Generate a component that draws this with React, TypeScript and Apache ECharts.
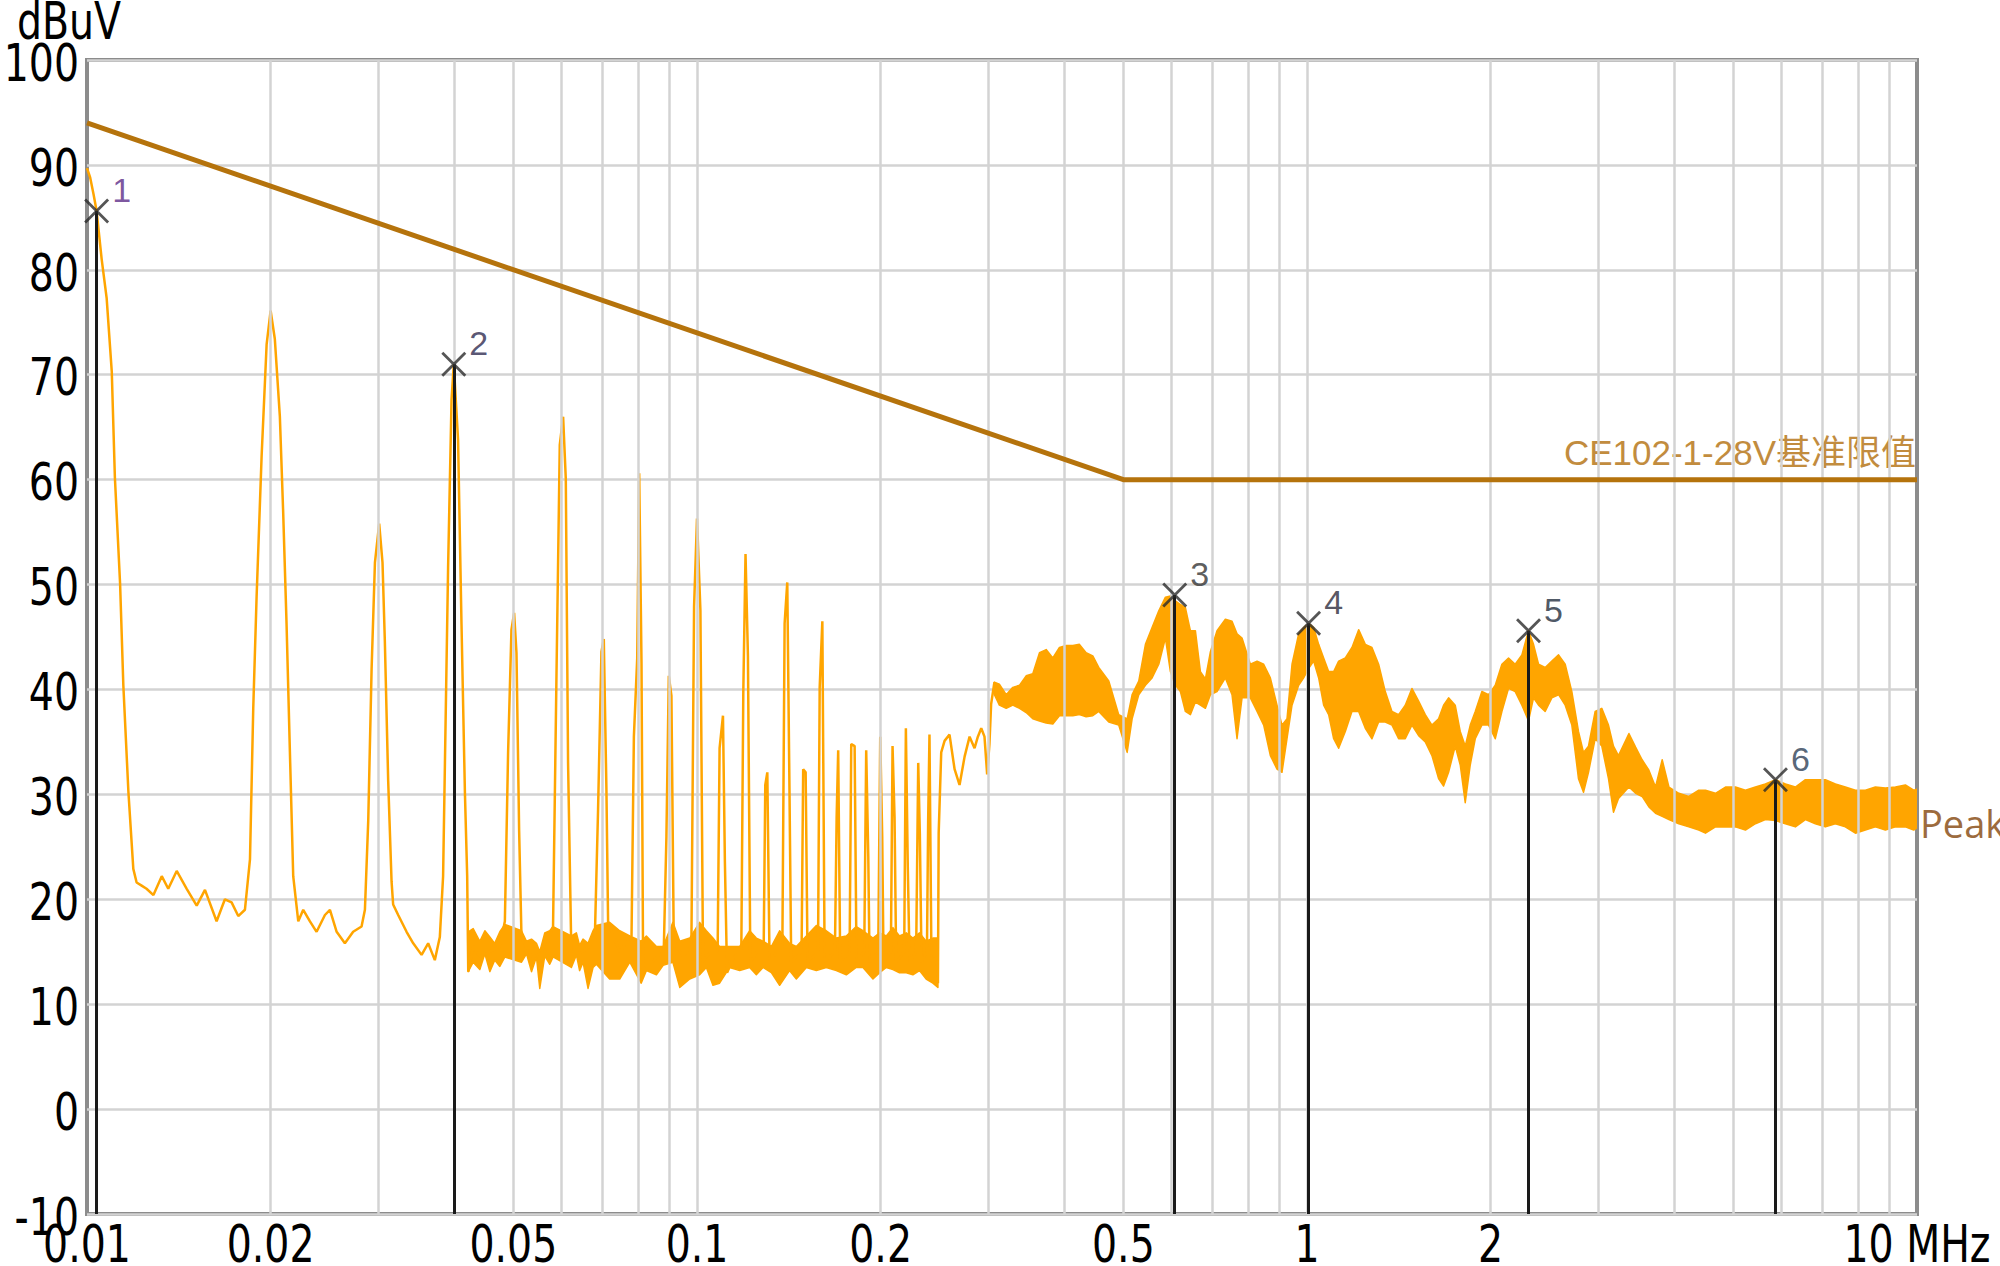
import React, { useEffect, useRef } from 'react';
import * as echarts from 'echarts';

// ---------- axes ----------
const X_MIN = 0.01;
const X_MAX = 10;
const Y_MIN = -10;
const Y_MAX = 100;
const Y_STEP = 10;
const Y_UNIT = 'dBuV';
const Y_TICKS = [-10, 0, 10, 20, 30, 40, 50, 60, 70, 80, 90, 100];

const TICK_F = [0.01, 0.02, 0.05, 0.1, 0.2, 0.5, 1, 2, 10];
const TICK_LABELS = ['0.01', '0.02', '0.05', '0.1', '0.2', '0.5', '1', '2', '10 MHz'];
const GRID_F = [
  0.02, 0.03, 0.04, 0.05, 0.06, 0.07, 0.08, 0.09, 0.1,
  0.2, 0.3, 0.4, 0.5, 0.6, 0.7, 0.8, 0.9, 1,
  2, 3, 4, 5, 6, 7, 8, 9,
];

// ---------- limit ----------
const LIMIT_NAME = 'CE102-1-28V基准限值';
const LIMIT_F = [0.01, 0.5, 10];
const LIMIT_V = [94, 60, 60];

// ---------- peak trace (line part) ----------
const TRACE_NAME = 'Peak';
const TRACE = [
  [0.01, 89.7], [0.01012, 88.8], [0.01025, 87.2], [0.01037, 85.6], [0.01057, 81.0], [0.01077, 77.3],
  [0.01098, 70.3], [0.01111, 60.2], [0.01133, 50.1], [0.01147, 40.4], [0.01169, 30.3], [0.01191, 22.9],
  [0.01206, 21.6], [0.01229, 21.3], [0.01252, 21.0], [0.01285, 20.4], [0.01326, 22.2], [0.01359, 21.0],
  [0.01403, 22.7], [0.01457, 21.0], [0.01513, 19.4], [0.01561, 20.9], [0.01631, 17.9], [0.01683, 20.0],
  [0.01726, 19.7], [0.0177, 18.4], [0.01815, 19.0], [0.0185, 23.8], [0.01873, 38.2], [0.01897, 48.9],
  [0.01933, 62.2], [0.0197, 72.9], [0.02, 76.1], [0.02032, 73.4], [0.02071, 66.0], [0.02097, 56.9],
  [0.02124, 46.2], [0.02151, 34.0], [0.02178, 22.2], [0.0222, 17.9], [0.02262, 19.0], [0.0232, 17.9],
  [0.02379, 16.9], [0.02455, 18.5], [0.02502, 19.0], [0.02566, 16.9], [0.02647, 15.8], [0.02731, 16.9],
  [0.02819, 17.4], [0.02855, 19.0], [0.02891, 27.5], [0.02928, 42.0], [0.02965, 52.1], [0.03013, 55.8],
  [0.03051, 52.1], [0.03078, 44.6], [0.03117, 31.3], [0.03157, 21.7], [0.03176, 19.5], [0.03237, 18.5],
  [0.03341, 16.9], [0.03426, 15.8], [0.03536, 14.7], [0.03625, 15.8], [0.03717, 14.2], [0.03788, 16.4],
  [0.03835, 22.2], [0.03908, 51.6], [0.03959, 67.6], [0.03993, 71.0], [0.04058, 63.8], [0.04111, 46.2],
  [0.04164, 30.2], [0.042, 22.2], [0.04217, 13.1],
  [0.04296, 15.5], [0.04405, 14.5], [0.04575, 15.0], [0.04751, 15.5], [0.04842, 17.9],
  [0.04901, 33.9], [0.04964, 45.7], [0.05014, 47.3], [0.05059, 43.5], [0.0511, 26.5], [0.05156, 16.3],
  [0.05354, 14.5], [0.05629, 15.0], [0.05808, 17.4],
  [0.05882, 40.9], [0.05957, 63.3], [0.06033, 66.0], [0.06094, 60.1], [0.06147, 32.9], [0.06224, 14.7],
  [0.06504, 15.0], [0.06798, 16.0],
  [0.06884, 28.6], [0.06972, 43.6], [0.07034, 44.8], [0.07104, 30.5], [0.07149, 17.8],
  [0.0747, 15.0], [0.0781, 16.5],
  [0.0788, 35.5], [0.0798, 43.0], [0.0804, 60.6], [0.0811, 42.5], [0.0816, 13.0],
  [0.0858, 14.5], [0.0882, 15.0],
  [0.0891, 26.0], [0.0899, 41.3], [0.0908, 39.4], [0.0916, 16.0],
  [0.095, 14.5], [0.0979, 15.5],
  [0.0989, 47.9], [0.1, 56.3], [0.1013, 47.5], [0.1023, 14.0],
  [0.105, 15.0], [0.1081, 15.0],
  [0.1089, 34.4], [0.1103, 37.5], [0.1111, 23.6], [0.112, 13.0],
  [0.115, 14.5], [0.1182, 15.0],
  [0.1191, 39.8], [0.1201, 52.9], [0.1212, 43.2], [0.1223, 14.0],
  [0.1255, 15.0], [0.1286, 15.0],
  [0.1294, 30.9], [0.1304, 32.1], [0.1315, 14.0],
  [0.135, 15.0], [0.138, 15.0],
  [0.1392, 46.3], [0.1406, 50.2], [0.1418, 30.0], [0.1427, 14.0],
  [0.1484, 15.0],
  [0.1493, 32.4], [0.1507, 32.1], [0.1518, 14.0],
  [0.1579, 15.0],
  [0.1589, 40.2], [0.1605, 46.5], [0.1619, 14.0],
  [0.1683, 15.0],
  [0.1694, 27.8], [0.1704, 34.2], [0.1717, 14.0],
  [0.1779, 15.0],
  [0.179, 34.8], [0.1813, 34.6], [0.1826, 14.0],
  [0.188, 15.0],
  [0.1894, 34.2], [0.1909, 24.0], [0.1918, 14.0],
  [0.1982, 15.0],
  [0.1997, 35.5], [0.2012, 26.0], [0.2022, 14.0],
  [0.2079, 15.0],
  [0.2092, 34.6], [0.2108, 27.8], [0.2121, 14.0],
  [0.2186, 15.0],
  [0.22, 36.3], [0.2216, 23.0], [0.2231, 14.0],
  [0.2287, 15.0],
  [0.2305, 33.0], [0.2319, 26.3], [0.2334, 14.0],
  [0.2382, 15.0],
  [0.2393, 27.5], [0.2405, 35.7], [0.2423, 14.0],
  [0.247, 14.5], [0.2483, 12.0],
  [0.249, 26.3], [0.2514, 34.0], [0.2546, 35.1], [0.2594, 35.7], [0.2644, 32.4], [0.2694, 30.9],
  [0.2746, 33.6], [0.2798, 35.5], [0.2851, 34.4], [0.2887, 35.5], [0.2924, 36.3], [0.296, 35.5],
  [0.299, 31.9], [0.3016, 34.8], [0.3035, 38.6], [0.3073, 40.7],
];

// ---------- noise floor band, 0.042 - 0.25 MHz ----------
const FLOOR_F = [
  0.04217, 0.04296, 0.04405, 0.0449, 0.04575, 0.0466, 0.04751, 0.04842, 0.05156, 0.05254, 0.05354,
  0.05455, 0.05524, 0.05629, 0.05736, 0.05808, 0.06224, 0.06343, 0.0642, 0.06504, 0.06628, 0.06754,
  0.0684, 0.0719, 0.0747, 0.0776, 0.081, 0.0826, 0.0858, 0.088, 0.0913, 0.0937, 0.0973, 0.101,
  0.1036, 0.1062, 0.1089, 0.1131, 0.1175, 0.122, 0.1251, 0.1283, 0.1324, 0.1366, 0.1418, 0.1455,
  0.1511, 0.1569, 0.1629, 0.1692, 0.1757, 0.1824, 0.1871, 0.1943, 0.1993, 0.2043, 0.2095, 0.2148,
  0.2203, 0.2259, 0.2316, 0.2375, 0.2436, 0.2483,
];
const FLOOR_LO = [
  13.1, 14.0, 13.3, 14.8, 13.1, 14.2, 13.6, 14.5, 14.0, 14.8, 13.1,
  14.5, 11.5, 14.6, 13.8, 14.5, 13.5, 14.7, 13.2, 14.0, 11.5, 13.5,
  13.8, 12.4, 12.4, 14.0, 12.0, 13.2, 12.8, 13.7, 14.0, 11.6, 12.4, 12.8,
  13.5, 11.8, 12.0, 13.5, 13.2, 13.5, 12.8, 13.5, 13.0, 11.8, 13.2, 12.4,
  13.5, 13.2, 13.5, 13.2, 12.8, 13.5, 13.5, 12.4, 13.0, 13.5, 13.3, 13.0,
  13.0, 12.8, 13.2, 12.4, 12.0, 11.6,
];
const FLOOR_HI = [
  16.9, 17.2, 16.0, 17.0, 16.4, 15.8, 16.9, 17.6, 17.0, 16.0, 16.2,
  15.8, 15.0, 16.8, 17.0, 17.4, 16.5, 16.8, 15.6, 16.2, 15.8, 17.0,
  17.5, 17.8, 17.0, 16.5, 16.0, 16.5, 15.5, 15.5, 17.8, 16.0, 16.3, 17.8,
  17.0, 16.3, 15.5, 15.5, 15.5, 17.0, 16.3, 16.0, 15.5, 17.0, 15.8, 15.5,
  16.5, 17.5, 17.0, 16.3, 16.5, 17.4, 17.0, 16.3, 16.8, 16.5, 17.3, 16.5,
  16.8, 16.3, 16.8, 16.0, 16.3, 16.3,
];

// ---------- dense noise band, 0.3 - 10 MHz ----------
const BAND_F = [
  0.3073, 0.3131, 0.3213, 0.3294, 0.3379, 0.3464, 0.3552, 0.3643, 0.3736, 0.3831, 0.3928, 0.403,
  0.4132, 0.4236, 0.4344, 0.4455, 0.4556, 0.4732, 0.4913, 0.5072, 0.5168, 0.5299, 0.5434, 0.5572,
  0.5715, 0.586, 0.5971, 0.607, 0.6201, 0.6319, 0.6439, 0.6562, 0.6687, 0.6815, 0.6945, 0.712,
  0.7348, 0.7535, 0.7679, 0.7825, 0.8075, 0.8282, 0.8492, 0.8708, 0.893, 0.9099, 0.9273, 0.945,
  0.969, 0.9875, 1.006, 1.0254, 1.045, 1.0649, 1.0852, 1.1059, 1.1269, 1.1556, 1.185, 1.2153,
  1.2462, 1.2779, 1.3105, 1.3438, 1.3782, 1.4132, 1.4491, 1.4859, 1.5241, 1.5628, 1.6025, 1.6432,
  1.6745, 1.7065, 1.7498, 1.7832, 1.8172, 1.8519, 1.8872, 1.9352, 1.9848, 2.0352, 2.0869, 2.1399,
  2.1943, 2.2505, 2.3076, 2.3516, 2.3965, 2.4573, 2.5198, 2.5845, 2.6502, 2.7175, 2.7865, 2.8397,
  2.8938, 2.9673, 3.0427, 3.1206, 3.18, 3.2406, 3.371, 3.457, 3.543, 3.635, 3.727, 3.822,
  3.92, 4.07, 4.226, 4.388, 4.5, 4.673, 4.853, 5.039, 5.233, 5.434, 5.643, 5.861,
  6.085, 6.319, 6.562, 6.814, 7.076, 7.348, 7.63, 7.925, 8.229, 8.546, 8.875, 9.218,
  9.571, 9.876, 10,
];
const BAND_LO = [
  39.5, 38.5, 38.2, 38.5, 38.2, 37.8, 37.2, 37.0, 36.8, 36.7, 37.5, 37.5,
  37.5, 37.6, 37.4, 37.5, 37.9, 36.9, 36.6, 34.0, 37.2, 39.5, 40.4, 41.1,
  42.4, 44.9, 41.7, 40.5, 39.8, 37.9, 37.6, 38.8, 38.5, 38.2, 39.5, 39.8,
  41.1, 39.5, 35.3, 39.2, 39.2, 37.9, 36.6, 33.7, 32.4, 32.1, 35.3, 38.5,
  40.4, 41.1, 42.0, 42.7, 41.1, 38.5, 37.6, 35.3, 34.4, 36.0, 37.9, 37.9,
  36.3, 35.3, 36.9, 36.9, 36.6, 35.3, 35.3, 36.6, 35.6, 35.0, 33.7, 31.5,
  30.8, 32.1, 34.6, 32.8, 29.2, 32.8, 35.3, 36.6, 36.6, 35.3, 37.9, 40.1,
  39.8, 38.5, 37.0, 39.2, 38.5, 37.9, 39.2, 39.5, 38.5, 36.6, 31.5, 30.2,
  32.1, 35.3, 34.6, 31.5, 28.3, 29.6, 30.7, 30.1, 29.8, 28.8, 28.2, 27.9,
  27.6, 27.2, 26.9, 26.6, 26.3, 26.9, 26.9, 26.9, 26.6, 27.2, 27.6, 27.5,
  27.2, 26.9, 27.6, 27.2, 26.9, 27.2, 26.9, 26.3, 26.6, 26.9, 26.6, 26.9,
  26.9, 26.6, 26.8,
];
const BAND_HI = [
  40.7, 40.5, 39.5, 40.2, 40.4, 41.3, 41.5, 43.5, 43.8, 43.0, 44.0, 44.2,
  44.2, 44.3, 43.5, 43.2, 42.1, 40.8, 37.6, 37.2, 39.5, 40.8, 44.3, 45.9,
  47.5, 48.8, 48.9, 48.5, 48.1, 47.8, 45.6, 45.6, 41.7, 41.0, 43.6, 45.6,
  46.7, 46.5, 45.3, 44.9, 42.4, 42.7, 42.4, 41.1, 38.5, 36.6, 37.2, 42.4,
  45.3, 45.9, 46.3, 45.9, 44.3, 43.0, 41.7, 41.7, 42.7, 43.0, 44.0, 45.7,
  44.3, 44.0, 42.4, 39.8, 37.9, 37.6, 38.5, 40.1, 38.9, 37.6, 36.6, 37.2,
  38.5, 39.2, 38.5, 36.0, 34.6, 36.6, 37.9, 39.8, 39.5, 40.4, 42.4, 43.0,
  42.4, 43.3, 45.6, 44.3, 42.4, 42.1, 42.7, 43.3, 42.4, 39.8, 36.0, 34.0,
  34.6, 37.9, 38.2, 36.6, 34.6, 33.7, 35.8, 34.5, 33.3, 32.3, 30.7, 33.3,
  30.7, 30.1, 29.8, 30.4, 30.4, 30.1, 30.7, 30.7, 30.4, 30.7, 31.0, 31.4,
  31.0, 30.7, 31.4, 31.4, 31.4, 31.0, 30.7, 30.4, 30.4, 30.7, 30.6, 30.7,
  30.9, 30.4, 30.5,
];

// ---------- markers ----------
const MARKER_ID = ['1', '2', '3', '4', '5', '6'];
const MARKER_F = [0.01037, 0.03993, 0.607, 1.006, 2.3076, 5.861];
const MARKER_V = [85.6, 71.0, 49.0, 46.3, 45.6, 31.4];

// ---------- styles ----------
const ORANGE = '#FFA500';
const LIMIT_COLOR = '#B5730C';
const LIMIT_TEXT_COLOR = '#C28C3E';
const PEAK_TEXT_COLOR = '#9C6B3E';
const GRID_COLOR = '#D3D3D3';
const FRAME_COLOR = '#8C8C8C';
const MARKER_LABEL_COLORS = ['#5B2A86', '#2E2A4F', '#333333', '#2A2A3A', '#1F2D3D', '#2C3E55'];
const AXIS_FONT = '"DejaVu Sans Condensed", "DejaVu Sans", sans-serif';
const AXIS_FONT_SIZE = 51;
const AXIS_SCALE_X = 0.86;

function bandSeries(F: number[], LO: number[], HI: number[]) {
  return {
    type: 'custom',
    coordinateSystem: 'cartesian2d',
    z: 3,
    silent: true,
    clip: true,
    data: F.map((f, i) => [f, LO[i], HI[i]]),
    encode: { x: 0, y: [1, 2] },
    renderItem: (params: any, api: any) => {
      if (params.dataIndex !== 0) return null;
      const top = F.map((f, i) => api.coord([f, HI[i]]));
      const bot = F.map((f, i) => api.coord([f, LO[i]])).reverse();
      return {
        type: 'polygon',
        shape: { points: top.concat(bot) },
        style: { fill: ORANGE, stroke: ORANGE, lineWidth: 1.5, lineJoin: 'round' },
      };
    },
  };
}

export default function App() {
  const ref = useRef<HTMLDivElement>(null);

  useEffect(() => {
    if (!ref.current) return;
    const chart = echarts.init(ref.current, undefined, { renderer: 'svg' });

    const pair = (f: number[], v: number[]) => f.map((x, i) => [x, v[i]]);

    const option: any = {
      animation: false,
      backgroundColor: '#FFFFFF',
      grid: {
        left: 87, right: 83, top: 60, bottom: 52,
        outerBoundsMode: 'none', containLabel: false,
        show: true, borderColor: FRAME_COLOR, borderWidth: 4, backgroundColor: 'transparent',
      },
      xAxis: {
        type: 'log', logBase: 10, min: X_MIN, max: X_MAX,
        axisLine: { show: false }, axisTick: { show: false }, axisLabel: { show: false },
        splitLine: { show: false },
      },
      yAxis: {
        type: 'value', min: Y_MIN, max: Y_MAX, interval: Y_STEP,
        axisLine: { show: false }, axisTick: { show: false }, axisLabel: { show: false },
        splitLine: { lineStyle: { color: GRID_COLOR, width: 2.5 } },
      },
      series: [
        {
          type: 'line', data: [], z: 1, silent: true,
          markLine: {
            silent: true, symbol: ['none', 'none'], label: { show: false },
            lineStyle: { color: GRID_COLOR, width: 2.5, type: 'solid' },
            data: GRID_F.map((f) => ({ xAxis: f })),
          },
        },
        bandSeries(FLOOR_F, FLOOR_LO, FLOOR_HI),
        bandSeries(BAND_F, BAND_LO, BAND_HI),
        {
          name: TRACE_NAME, type: 'line', data: TRACE, symbol: 'none', z: 4,
          lineStyle: { color: ORANGE, width: 2.5 },
        },
        {
          name: LIMIT_NAME, type: 'line', data: pair(LIMIT_F, LIMIT_V), symbol: 'none', z: 5,
          lineStyle: { color: LIMIT_COLOR, width: 5 },
        },
        {
          name: 'markers', type: 'scatter', z: 10,
          symbol: 'path://M0,0L10,10M10,0L0,10', symbolSize: 23,
          itemStyle: { color: 'none', borderColor: '#2B2B2B', borderWidth: 2.8 },
          data: MARKER_F.map((f, i) => ({
            value: [f, MARKER_V[i]],
            label: { color: MARKER_LABEL_COLORS[i] },
          })),
          label: {
            show: true, position: 'inside', offset: [25, -21],
            formatter: (p: any) => MARKER_ID[p.dataIndex],
            fontSize: 34, fontFamily: '"Liberation Sans", Arial, sans-serif',
          },
          markLine: {
            silent: true, symbol: ['none', 'none'], label: { show: false },
            lineStyle: { color: '#1A1A1A', width: 3, type: 'solid' },
            data: MARKER_F.map((f, i) => [{ coord: [f, Y_MIN] }, { coord: [f, MARKER_V[i]] }]),
          },
        },
      ],
    };
    chart.setOption(option);

    const px = (f: number) => chart.convertToPixel({ xAxisIndex: 0 }, f) as number;
    const py = (v: number) => chart.convertToPixel({ yAxisIndex: 0 }, v) as number;
    const left = px(X_MIN);
    const bottom = py(Y_MIN);
    const axisText = (text: string, x: number, y: number, align: string) => ({
      type: 'text', x, y, scaleX: AXIS_SCALE_X, silent: true, z: 20,
      style: {
        text, fill: '#000', fontSize: AXIS_FONT_SIZE, fontFamily: AXIS_FONT,
        align, verticalAlign: 'middle',
      },
    });
    const graphic: any[] = [];
    TICK_F.forEach((f, i) => graphic.push(axisText(TICK_LABELS[i], px(f), bottom + 30, 'center')));
    Y_TICKS.forEach((v) => graphic.push(axisText(String(v), left - 8, py(v) + 3, 'right')));
    graphic.push(axisText(Y_UNIT, 17, 21, 'left'));
    graphic.push({
      type: 'text', x: px(X_MAX) - 1, y: py(LIMIT_V[LIMIT_V.length - 1]) - 10, silent: true,
      style: {
        text: LIMIT_NAME, fill: LIMIT_TEXT_COLOR, fontSize: 35,
        fontFamily: '"Liberation Sans", "Noto Sans CJK SC", sans-serif', align: 'right', verticalAlign: 'bottom',
      },
    });
    const lastMid = (BAND_LO[BAND_LO.length - 1] + BAND_HI[BAND_HI.length - 1]) / 2;
    graphic.push({
      type: 'text', x: px(X_MAX) + 3, y: py(lastMid) + 14, silent: true,
      style: { text: TRACE_NAME, fill: PEAK_TEXT_COLOR, fontSize: 38, fontFamily: '"Open Sans", sans-serif', align: 'left', verticalAlign: 'middle' },
    });
    chart.setOption({ graphic });

    return () => chart.dispose();
  }, []);

  return <div ref={ref} style={{ position: 'absolute', left: 0, top: 0, width: 2000, height: 1266 }} />;
}
